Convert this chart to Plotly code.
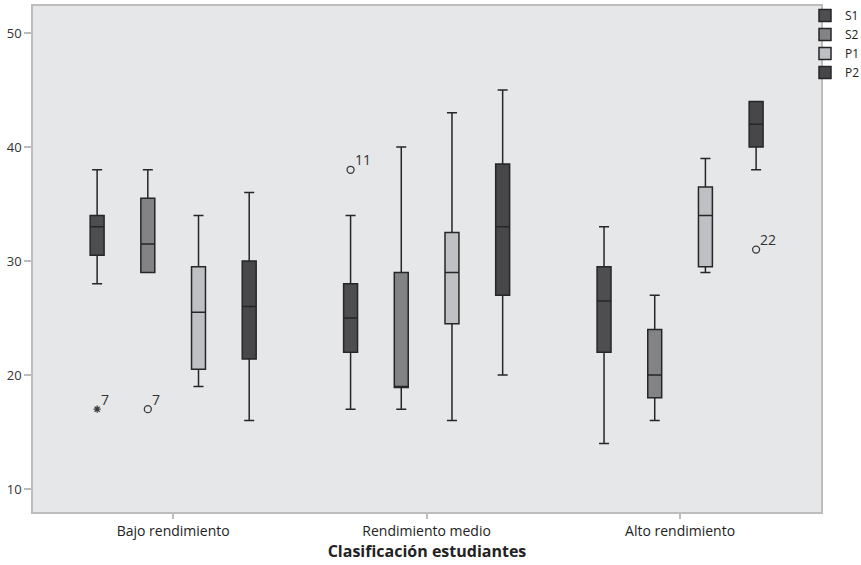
import plotly.graph_objects as go

categories = ["Bajo rendimiento", "Rendimiento medio", "Alto rendimiento"]
series = ["S1", "S2", "P1", "P2"]

# box statistics per series, one value per category
lower = {"S1": [28, 17, 14], "S2": [29, 17, 16], "P1": [19, 16, 29], "P2": [16, 20, 38]}
q1 = {"S1": [30.5, 22, 22], "S2": [29, 18.9, 18], "P1": [20.5, 24.5, 29.5], "P2": [21.4, 27, 40]}
median = {"S1": [33, 25, 26.5], "S2": [31.5, 19, 20], "P1": [25.5, 29, 34], "P2": [26, 33, 42]}
q3 = {"S1": [34, 28, 29.5], "S2": [35.5, 29, 24], "P1": [29.5, 32.5, 36.5], "P2": [30, 38.5, 44]}
upper = {"S1": [38, 34, 33], "S2": [38, 40, 27], "P1": [34, 43, 39], "P2": [36, 45, 44]}

# outliers: series, category index, value, case label, kind
out_series = ["S1", "S2", "S1", "P2"]
out_cat = [0, 0, 1, 2]
out_value = [17, 17, 38, 31]
out_label = ["7", "7", "11", "22"]
out_kind = ["extreme", "outlier", "outlier", "outlier"]

fills = {"S1": "#4e4e50", "S2": "#838386", "P1": "#bfc0c3", "P2": "#47474a"}
offsets = {"S1": -0.3, "S2": -0.1, "P1": 0.1, "P2": 0.3}

fig = go.Figure()
for s in series:
    xs = [i + offsets[s] for i in range(len(categories))]
    fig.add_trace(go.Box(
        name=s, x=xs, q1=q1[s], median=median[s], q3=q3[s],
        lowerfence=lower[s], upperfence=upper[s],
        width=0.055, whiskerwidth=0.72,
        fillcolor=fills[s], line=dict(color="#262626", width=1.5),
        boxpoints=False, hoverinfo="skip",
    ))

ox = [c + offsets[s] for s, c in zip(out_series, out_cat)]
for kind, sym, size in [("outlier", "circle-open", 7), ("extreme", "asterisk-open", 6)]:
    idx = [i for i, k in enumerate(out_kind) if k == kind]
    fig.add_trace(go.Scatter(
        x=[ox[i] for i in idx], y=[out_value[i] for i in idx], mode="markers",
        marker=dict(symbol=sym, size=size, color="#3a3a3a", line=dict(color="#3a3a3a", width=1.3)),
        showlegend=False, hoverinfo="skip",
    ))

for i in range(len(out_value)):
    fig.add_annotation(
        x=ox[i], y=out_value[i], text=out_label[i], showarrow=False,
        xanchor="left", yanchor="middle", xshift=2, yshift=10,
        font=dict(size=14, color="#333333"),
    )

fig.update_layout(
    width=861, height=565,
    margin=dict(l=33, r=40, t=6, b=53, autoexpand=False),
    paper_bgcolor="white", plot_bgcolor="#e6e7e9",
    font=dict(family="Open Sans, sans-serif", size=12, color="#333333"),
    boxmode="overlay",
    showlegend=True,
    legend=dict(x=0.9797, y=1.01, xanchor="left", yanchor="top", font=dict(size=12, color="#222222"),
                bgcolor="rgba(0,0,0,0)", tracegroupgap=0),
    xaxis=dict(
        range=[-0.553, 2.556], tickmode="array", tickvals=list(range(len(categories))),
        ticktext=categories, ticks="outside", ticklen=5, tickcolor="#bdbdbd", tickwidth=1.5,
        showgrid=False, zeroline=False, showline=True, mirror=True, linecolor="#bdbdbd", linewidth=1.5,
        tickfont=dict(size=14, color="#222222"),
        title=dict(text="<b>Clasificación estudiantes</b>", font=dict(size=16, color="#222222"), standoff=6),
    ),
    yaxis=dict(
        range=[7.98, 52.37], tickvals=[10, 20, 30, 40, 50], ticks="outside", ticklen=7,
        tickcolor="#bdbdbd", tickwidth=1.5, showgrid=False, zeroline=False,
        showline=True, mirror=True, linecolor="#bdbdbd", linewidth=1.5,
        tickfont=dict(size=13, color="#333333"),
    ),
)

fig.write_html("out.html", config={"displayModeBar": False},
               post_script="document.body.style.margin='0';")
